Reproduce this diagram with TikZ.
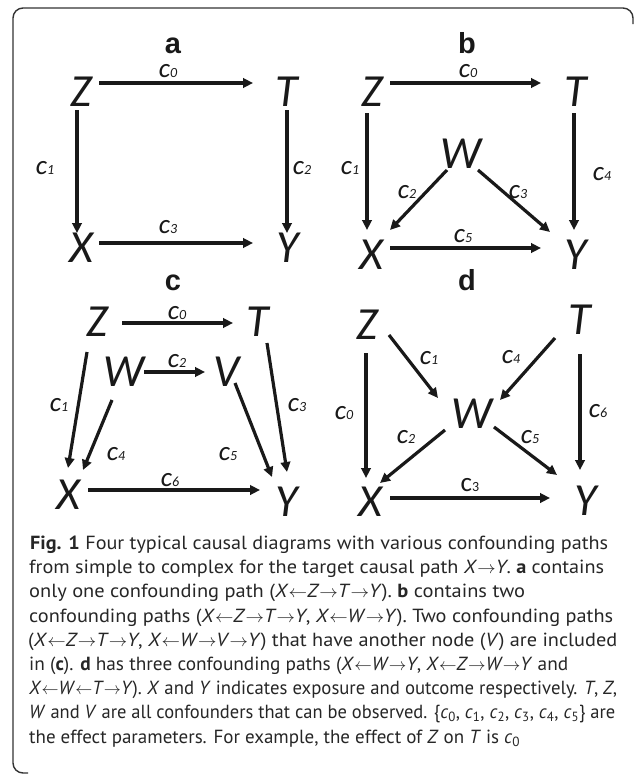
\documentclass[tikz,border=0pt]{standalone}
\usepackage{fontspec}
\usepackage{graphicx}
\usetikzlibrary{arrows.meta,calc}
\newfontfamily\dgfont{Carlito}
\newfontfamily\lbfont{Liberation Sans}
\newfontfamily\capfont{PT Sans}
\newcommand\cc[1]{{\fontsize{27}{27}\selectfont c}{\fontsize{14}{14}\selectfont #1}}
\newcommand\iv[1]{\textit{#1}}
\newcommand\myL{$\leftarrow$}
\newcommand\myR{$\rightarrow$}
\newcommand\csub[1]{\textit{c}\textsubscript{#1}}
\tikzset{
 var/.style={font=\dgfont\fontsize{46}{46}\selectfont\itshape, inner sep=0pt, text=black!90},
 panel/.style={inner sep=0pt, anchor=base, font=\lbfont\bfseries\fontsize{29}{29}\selectfont, text=black!90},
 lab/.style={inner sep=0pt, font=\dgfont\itshape, text=black!90},
 labu/.style={inner sep=0pt, font=\dgfont, text=black!90},
 arr/.style={line width=3.2pt, -{Triangle[length=10pt,width=9.5pt]}, draw=black!90},
 capl/.style={anchor=base west, inner sep=0pt, font=\capfont\fontsize{19}{19}\selectfont, text=black!85},
}
\begin{document}
\begin{tikzpicture}[x=1pt,y=-1pt]
\useasboundingbox (0,0) rectangle (634,774);
% frame
\draw[line width=1.4pt, black!80, rounded corners=10pt] (633,24) -- (633,8) -- (13,8) -- (13,773) -- (28,773);

% ---------- panel a ----------
\node[panel] (pa) at (173,53) {a};
\node[var] (aZ) at (81,92) {Z};
\node[var] (aT) at (287,92) {T};
\node[var] (aX) at (81,248) {X};
\node[var] (aY) at (288,248) {Y};
\draw[arr] ($(aZ)+(18,-9)$) -- ($(aT)+(-34,-9)$);
\draw[arr] ($(aZ)+(-4,18)$) -- ($(aX)+(-4,-15)$);
\draw[arr] ($(aT)+(0,18)$) -- ($(aY)+(-1,-15)$);
\draw[arr] ($(aX)+(18,-5)$) -- ($(aY)+(-35,-5)$);
\node[lab] (a0) at (168,71) {\cc{0}};
\node[lab] (a1) at (45,168) {\cc{1}};
\node[lab] (a2) at (302,168) {\cc{2}};
\node[lab] (a3) at (168,227) {\cc{3}};

% ---------- panel b ----------
\node[panel] (pb) at (467,53) {b};
\node[var] (bZ) at (372,92) {Z};
\node[var] (bT) at (576,92) {T};
\node[var] (bW) at (461,154) {W};
\node[var] (bX) at (371,255) {X};
\node[var] (bY) at (576,255) {Y};
\draw[arr] ($(bZ)+(18,-9)$) -- ($(bT)+(-35,-9)$);
\draw[arr] ($(bZ)+(-5,21)$) -- ($(bX)+(-4,-25)$);
\draw[arr] ($(bT)+(-2,21)$) -- ($(bY)+(-2,-25)$);
\draw[arr] ($(bX)+(19,-7)$) -- ($(bY)+(-35,-7)$);
\draw[arr] ($(bW)+(-14,16)$) -- ($(bX)+(19,-25)$);
\draw[arr] ($(bW)+(17,16)$) -- ($(bY)+(-26,-23)$);
\node[lab] (b0) at (468,71) {\cc{0}};
\node[lab] (b1) at (350,168) {\cc{1}};
\node[lab] (b4) at (602,174) {\cc{4}};
\node[lab] (b5) at (463,236) {\cc{5}};
\node[lab] (b2) at (407,192) {\cc{2}};
\node[lab] (b3) at (518,192) {\cc{3}};

% ---------- panel c ----------
\node[panel] (pc) at (173,290) {c};
\node[var] (cZ) at (97,322) {Z};
\node[var] (cT) at (258,322) {T};
\node[var] (cW) at (124,372) {W};
\node[var] (cV) at (227,372) {V};
\node[var] (cX) at (68,495) {X};
\node[var] (cY) at (287,502) {Y};
\draw[arr] ($(cZ)+(25,1)$) -- ($(cT)+(-25,1)$);
\draw[arr] ($(cW)+(20,0)$) -- ($(cV)+(-22,0)$);
\draw[arr] ($(cZ)+(-10,30)$) -- ($(cX)+(0,-27)$);
\draw[arr] ($(cW)+(-12,28)$) -- ($(cX)+(15,-25)$);
\draw[arr] ($(cV)+(8,11)$) -- ($(cY)+(-15,-25)$);
\draw[arr] ($(cT)+(9,21)$) -- ($(cY)+(0,-30)$);
\draw[arr] ($(cX)+(20,-5)$) -- ($(cY)+(-27,-12)$);
\node[lab] (c0) at (177,313) {\cc{0}};
\node[lab] (c2) at (177,361) {\cc{2}};
\node[lab] (c1) at (59,405) {\cc{1}};
\node[lab] (c4) at (116,454) {\cc{4}};
\node[lab] (c5) at (228,454) {\cc{5}};
\node[lab] (c3) at (297,405) {\cc{3}};
\node[lab] (c6) at (170,480) {\cc{6}};

% ---------- panel d ----------
\node[panel] (pd) at (467,290) {d};
\node[var] (dZ) at (367,325) {Z};
\node[var] (dT) at (580,320) {T};
\node[var] (dW) at (472,414) {W};
\node[var] (dX) at (370,502) {X};
\node[var] (dY) at (586,501) {Y};
\draw[arr] ($(dZ)+(-1,28)$) -- ($(dX)+(-4,-24)$);
\draw[arr] ($(dZ)+(22,10)$) -- ($(dW)+(-34,-16)$);
\draw[arr] ($(dT)+(-25,18)$) -- ($(dW)+(28,-14)$);
\draw[arr] ($(dT)+(0,34)$) -- ($(dY)+(-6,-31)$);
\draw[arr] ($(dW)+(-27,16)$) -- ($(dX)+(10,-19)$);
\draw[arr] ($(dW)+(22,13)$) -- ($(dY)+(-29,-26)$);
\draw[arr] ($(dX)+(20,-4)$) -- ($(dY)+(-36,-3)$);
\node[lab] (d0) at (344,413) {\cc{0}};
\node[lab] (d1) at (429,358) {\cc{1}};
\node[lab] (d4) at (511,357) {\cc{4}};
\node[lab] (d6) at (598,411) {\cc{6}};
\node[lab] (d2) at (406,437) {\cc{2}};
\node[lab] (d5) at (530,437) {\cc{5}};
\node[labu] (d3) at (470,485) {\cc{3}};

% ---------- caption ----------
\node[capl] (cap1) at (30,549) {\resizebox{578pt}{\height}{\textbf{Fig. 1} Four typical causal diagrams with various confounding paths}};
\node[capl] (cap2) at (29,573) {\resizebox{575pt}{\height}{from simple to complex for the target causal path \iv{X}\myR\iv{Y}. \textbf{a} contains}};
\node[capl] (cap3) at (29,597) {\resizebox{496pt}{\height}{only one confounding path (\iv{X}\myL\iv{Z}\myR\iv{T}\myR\iv{Y}). \textbf{b} contains two}};
\node[capl] (cap4) at (29,622) {\resizebox{584pt}{\height}{confounding paths (\iv{X}\myL\iv{Z}\myR\iv{T}\myR\iv{Y}, \iv{X}\myL\iv{W}\myR\iv{Y}). Two confounding paths}};
\node[capl] (cap5) at (28,646) {\resizebox{589pt}{\height}{(\iv{X}\myL\iv{Z}\myR\iv{T}\myR\iv{Y}, \iv{X}\myL\iv{W}\myR\iv{V}\myR\iv{Y}) that have another node (\iv{V}) are included}};
\node[capl] (cap6) at (29,670) {\resizebox{539pt}{\height}{in (\textbf{c}). \textbf{d} has three confounding paths (\iv{X}\myL\iv{W}\myR\iv{Y}, \iv{X}\myL\iv{Z}\myR\iv{W}\myR\iv{Y} and}};
\node[capl] (cap7) at (29,694) {\resizebox{588pt}{\height}{\iv{X}\myL\iv{W}\myL\iv{T}\myR\iv{Y}). \iv{X} and \iv{Y} indicates exposure and outcome respectively. \iv{T}, \iv{Z},}};
\node[capl] (cap8) at (29,718) {\resizebox{586pt}{\height}{\iv{W} and \iv{V} are all confounders that can be observed. \{\csub{0}, \csub{1}, \csub{2}, \csub{3}, \csub{4}, \csub{5}\} are}};
\node[capl] (cap9) at (29,743) {\resizebox{491pt}{\height}{the effect parameters. For example, the effect of \iv{Z} on \iv{T} is \csub{0}}};
\end{tikzpicture}
\end{document}
